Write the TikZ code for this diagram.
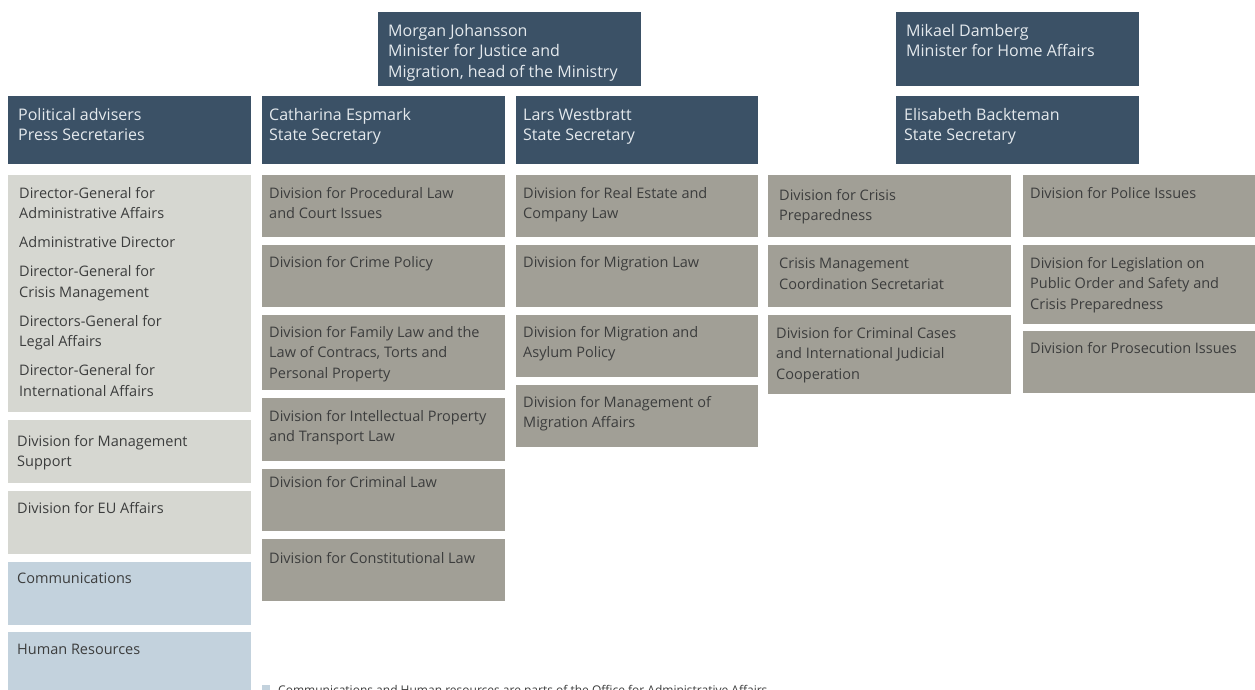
\documentclass[tikz,border=0pt]{standalone}
\usepackage{fontspec}
\setmainfont{Open Sans}
\definecolor{darkbox}{HTML}{3B5166}
\definecolor{lightbox}{HTML}{D6D7D1}
\definecolor{greybox}{HTML}{A19F96}
\definecolor{bluebox}{HTML}{C3D2DD}
\definecolor{headtext}{HTML}{E4E9ED}
\definecolor{unittext}{HTML}{3C3D3D}
\tikzset{
  head/.style={anchor=north west, inner sep=0pt, align=left, text=headtext, font=\fontsize{16}{20.5}\selectfont},
  unit/.style={anchor=north west, inner sep=0pt, align=left, text=unittext, font=\fontsize{14.5}{20.5}\selectfont},
}
\begin{document}
\begin{tikzpicture}[x=1pt,y=-1pt]
\clip (0,0) rectangle (1255,690);
\fill [white] (0,0) rectangle (1255,690);

% ministers
\fill [darkbox] (378,12) rectangle (641,86);
\node [head] (morgan) at (388,24) {Morgan Johansson\\Minister for Justice and\\Migration, head of the Ministry};
\fill [darkbox] (896,12) rectangle (1139,86);
\node [head] (mikael) at (906,24) {Mikael Damberg\\Minister for Home Affairs};

% second row
\fill [darkbox] (8,96) rectangle (251,164);
\node [head] (advisers) at (18,108) {Political advisers\\Press Secretaries};
\fill [darkbox] (262,96) rectangle (505,164);
\node [head] (espmark) at (269,108) {Catharina Espmark\\State Secretary};
\fill [darkbox] (516,96) rectangle (758,164);
\node [head] (westbratt) at (523,108) {Lars Westbratt\\State Secretary};
\fill [darkbox] (896,96) rectangle (1139,164);
\node [head] (backteman) at (904,108) {Elisabeth Backteman\\State Secretary};

% left column
\fill [lightbox] (8,175) rectangle (251,412);
\node [unit] (directors) at (19,187) {Director-General for\\Administrative Affairs\\[8.5pt]Administrative Director\\[8.5pt]Director-General for\\Crisis Management\\[8.5pt]Directors-General for\\Legal Affairs\\[8.5pt]Director-General for\\International Affairs};
\fill [lightbox] (8,420) rectangle (251,483);
\node [unit] (support) at (17,435) {Division for Management\\Support};
\fill [lightbox] (8,491) rectangle (251,554);
\node [unit] (euaffairs) at (17,502) {Division for EU Affairs};
\fill [bluebox] (8,562) rectangle (251,625);
\node [unit] (comms) at (17,573) {Communications};
\fill [bluebox] (8,632) rectangle (251,695);
\node [unit] (hr) at (17,644) {Human Resources};

% Espmark divisions
\fill [greybox] (262,175) rectangle (505,237);
\node [unit] (procedural) at (269,187) {Division for Procedural Law\\and Court Issues};
\fill [greybox] (262,245) rectangle (505,307);
\node [unit] (crimepol) at (269,256) {Division for Crime Policy};
\fill [greybox] (262,315) rectangle (505,390);
\node [unit] (familylaw) at (269,326) {Division for Family Law and the\\Law of Contracs, Torts and\\Personal Property};
\fill [greybox] (262,398) rectangle (505,461);
\node [unit] (intellectual) at (269,410) {Division for Intellectual Property\\and Transport Law};
\fill [greybox] (262,469) rectangle (505,531);
\node [unit] (criminallaw) at (269,476) {Division for Criminal Law};
\fill [greybox] (262,539) rectangle (505,601);
\node [unit] (constitutional) at (269,552) {Division for Constitutional Law};

% Westbratt divisions
\fill [greybox] (516,175) rectangle (758,237);
\node [unit] (realestate) at (523,187) {Division for Real Estate and\\Company Law};
\fill [greybox] (516,245) rectangle (758,307);
\node [unit] (migrationlaw) at (523,256) {Division for Migration Law};
\fill [greybox] (516,315) rectangle (758,377);
\node [unit] (asylum) at (523,326) {Division for Migration and\\Asylum Policy};
\fill [greybox] (516,385) rectangle (758,447);
\node [unit] (migaffairs) at (523,396) {Division for Management of\\Migration Affairs};

% Backteman divisions
\fill [greybox] (768,175) rectangle (1011,237);
\node [unit] (crisisprep) at (779,189) {Division for Crisis\\Preparedness};
\fill [greybox] (768,245) rectangle (1011,307);
\node [unit] (coordination) at (779,258) {Crisis Management\\Coordination Secretariat};
\fill [greybox] (768,315) rectangle (1011,394);
\node [unit] (criminalcases) at (776,327) {Division for Criminal Cases\\and International Judicial\\Cooperation};
\fill [greybox] (1023,175) rectangle (1255,237);
\node [unit] (police) at (1030,187) {Division for Police Issues};
\fill [greybox] (1023,245) rectangle (1255,324);
\node [unit] (publicorder) at (1030,257) {Division for Legislation on\\Public Order and Safety and\\Crisis Preparedness};
\fill [greybox] (1023,331) rectangle (1255,393);
\node [unit] (prosecution) at (1030,342) {Division for Prosecution Issues};

% footnote
\fill [bluebox] (262,685) rectangle (270,693);
\node [unit, font=\fontsize{12}{14}\selectfont] (note) at (278,685) {Communications and Human resources are parts of the Office for Administrative Affairs};
\end{tikzpicture}
\end{document}
